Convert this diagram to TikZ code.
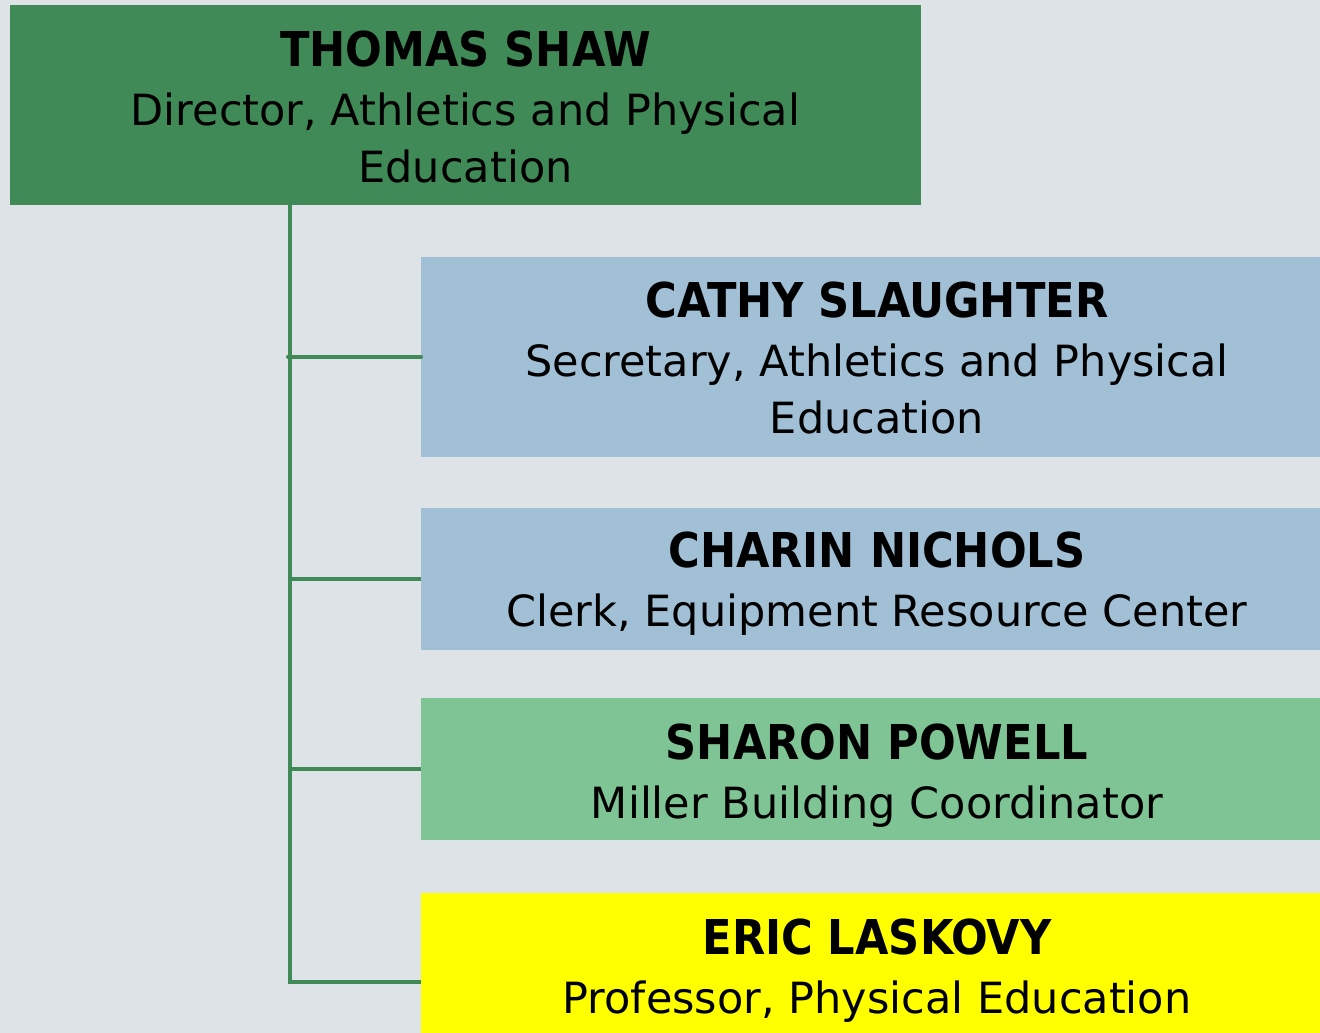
\documentclass[tikz,border=0pt]{standalone}
\usepackage{fontspec}
\setmainfont{DejaVu Sans}
\newfontfamily\namefamily{DejaVu Sans Condensed}
\definecolor{bg}{HTML}{DEE3E7}
\definecolor{dgreen}{HTML}{3F8A56}
\definecolor{lblue}{HTML}{A1C0D6}
\definecolor{lgreen}{HTML}{7EC494}
\definecolor{yel}{HTML}{FFFF00}
\newcommand{\nm}[1]{{\namefamily\fontsize{48}{60}\selectfont\bfseries #1}}
\tikzset{
  box/.style={rectangle, inner sep=0pt, outer sep=0pt},
  txt/.style={inner sep=0pt, outer sep=0pt, align=center,
    font=\fontsize{43}{57}\selectfont, text=black},
  link/.style={draw=dgreen, line width=4pt}
}
\begin{document}
\begin{tikzpicture}[x=1pt,y=-1pt]
\fill[bg] (0,0) rectangle (1320,1033);
\useasboundingbox (0,0) rectangle (1320,1033);
% boxes
\node[box, fill=dgreen, minimum width=911pt, minimum height=200pt] (top) at (465.5,105) {};
\node[box, fill=lblue, minimum width=913pt, minimum height=200pt] (cs) at (877.5,356.5) {};
\node[box, fill=lblue, minimum width=913pt, minimum height=142pt] (cn) at (877.5,578.5) {};
\node[box, fill=lgreen, minimum width=913pt, minimum height=142pt] (sp) at (877.5,769) {};
\node[box, fill=yel, minimum width=913pt, minimum height=178pt] (el) at (877.5,982) {};
% texts
\node[txt] (topt) at (465.5,107)
  {\nm{THOMAS SHAW}\\[2pt]Director, Athletics and Physical\\Education};
\node[txt] (cst) at (877,357.5)
  {\nm{CATHY SLAUGHTER}\\[2pt]Secretary, Athletics and Physical\\Education};
\node[txt] (cnt) at (877,584)
  {\nm{CHARIN NICHOLS}\\[2pt]Clerk, Equipment Resource Center};
\node[txt] (spt) at (877,775.5)
  {\nm{SHARON POWELL}\\[2pt]Miller Building Coordinator};
\node[txt] (elt) at (877,971)
  {\nm{ERIC LASKOVY}\\[2pt]Professor, Physical Education};
% connectors
\coordinate (trunk) at (290,205);
\draw[link] (trunk) -- (trunk |- el.west) -- (el.west);
\draw[link, line cap=round] (cs.west) -- ([xshift=-2pt]trunk |- cs.west);
\draw[link] (cn.west) -- (trunk |- cn.west);
\draw[link] (sp.west) -- (trunk |- sp.west);
\end{tikzpicture}
\end{document}
